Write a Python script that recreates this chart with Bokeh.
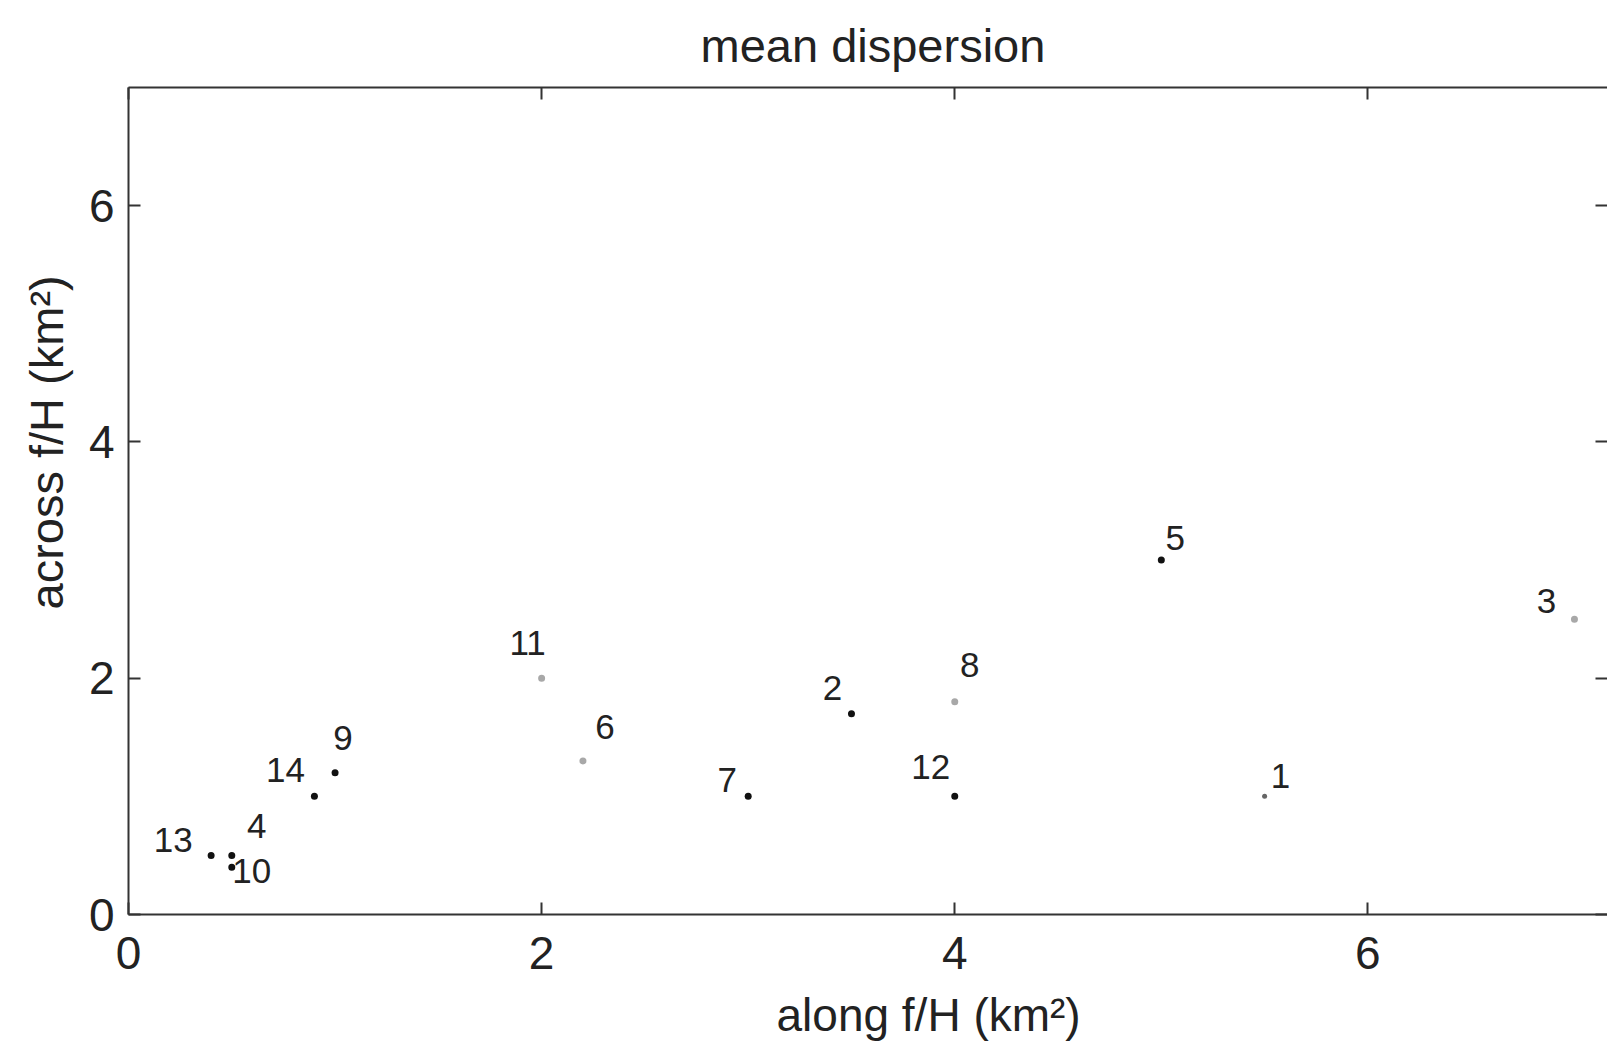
from bokeh.plotting import figure
from bokeh.models import Range1d, LinearAxis, FixedTicker, ColumnDataSource, Title
from bokeh.core.properties import value
from bokeh.embed import file_html
from bokeh.resources import INLINE

# Mean dispersion per release: along- and across-f/H spread (km^2)
release_ids = ["1", "2", "3", "4", "5", "6", "7", "8", "9", "10", "11", "12", "13", "14"]
along_km2 = [5.5, 3.5, 7.0, 0.5, 5.0, 2.2, 3.0, 4.0, 1.0, 0.5, 2.0, 4.0, 0.4, 0.9]
across_km2 = [1.0, 1.7, 2.5, 0.5, 3.0, 1.3, 1.0, 1.8, 1.2, 0.4, 2.0, 1.0, 0.5, 1.0]
# releases drawn in grey vs black
release_group = ["mid", "black", "grey", "black", "black", "grey", "black",
                 "grey", "black", "black", "grey", "black", "black", "black"]
x_ticks = [0, 2, 4, 6]
y_ticks = [0, 2, 4, 6]

FONT = "Liberation Sans"
INK = "#222222"
group_colors = {"black": "#111111", "grey": "#a8a8a8", "mid": "#666666"}
group_sizes = {"black": 7, "grey": 7, "mid": 5}

# label offsets in screen pixels (dx right, dy down) around each dot
label_offsets = {
    "1": (16, -20), "2": (-19, -26), "3": (-28, -18), "4": (25, -29),
    "5": (14, -22), "6": (22, -34), "7": (-21, -16), "8": (15, -37),
    "9": (8, -35), "10": (20, 4), "11": (-14, -35), "12": (-24, -29),
    "13": (-38, -15), "14": (-29, -26),
}

src = ColumnDataSource(dict(
    x=along_km2, y=across_km2, lab=release_ids,
    color=[group_colors[g] for g in release_group],
    size=[group_sizes[g] for g in release_group],
    dx=[label_offsets[r][0] for r in release_ids],
    dy=[label_offsets[r][1] for r in release_ids],
))

p = figure(
    frame_width=1479, frame_height=827,
    x_range=Range1d(0, 7.16), y_range=Range1d(0, 7),
    output_backend="svg", toolbar_location=None,
    min_border_left=128, min_border_top=87, min_border_bottom=130, min_border_right=0,
    x_axis_location=None, y_axis_location=None,
)
p.outline_line_color = None
p.xgrid.visible = False
p.ygrid.visible = False
p.background_fill_color = "white"
p.border_fill_color = "white"


def style_axis(ax, show_labels):
    ax.axis_line_width = 2
    ax.axis_line_color = "#333333"
    ax.major_tick_line_width = 2
    ax.major_tick_line_color = "#333333"
    ax.major_tick_in = 12
    ax.major_tick_out = 0
    ax.minor_tick_line_color = None
    ax.major_label_text_font = FONT
    ax.major_label_text_color = INK
    if show_labels:
        ax.major_label_text_font_size = "46px"
    else:
        ax.major_label_text_font_size = "0px"
        ax.major_label_standoff = 0


xb = LinearAxis(ticker=FixedTicker(ticks=x_ticks))
style_axis(xb, True)
xb.major_label_standoff = 22
p.add_layout(xb, "below")

yl = LinearAxis(ticker=FixedTicker(ticks=y_ticks))
style_axis(yl, True)
yl.major_label_standoff = 14
p.add_layout(yl, "left")

xt = LinearAxis(ticker=FixedTicker(ticks=x_ticks))
style_axis(xt, False)
p.add_layout(xt, "above")

yr = LinearAxis(ticker=FixedTicker(ticks=y_ticks))
style_axis(yr, False)
yr.axis_line_alpha = 0
p.add_layout(yr, "right")


def make_title(text, size, offset, standoff, valign="bottom"):
    return Title(text=text, text_font=FONT, text_font_size=size,
                 text_font_style="normal", text_color=INK, align="left",
                 vertical_align=valign, offset=offset, standoff=standoff)


# plot title and the two axis titles
p.add_layout(make_title("mean dispersion", "47px", 572, 28, "top"), "above")
p.add_layout(make_title("along f/H (km²)", "46px", 648, 34, "top"), "below")
p.add_layout(make_title("across f/H  (km²)", "47px", 305, 26), "left")

p.scatter("x", "y", source=src, size="size", fill_color="color",
          line_color=None, marker="circle")

p.text("x", "y", text="lab", source=src, x_offset="dx", y_offset="dy",
       text_font=value(FONT), text_font_size="35px", text_color=INK,
       text_align="center", text_baseline="middle")

open("out.html", "w").write(file_html(p, INLINE))
